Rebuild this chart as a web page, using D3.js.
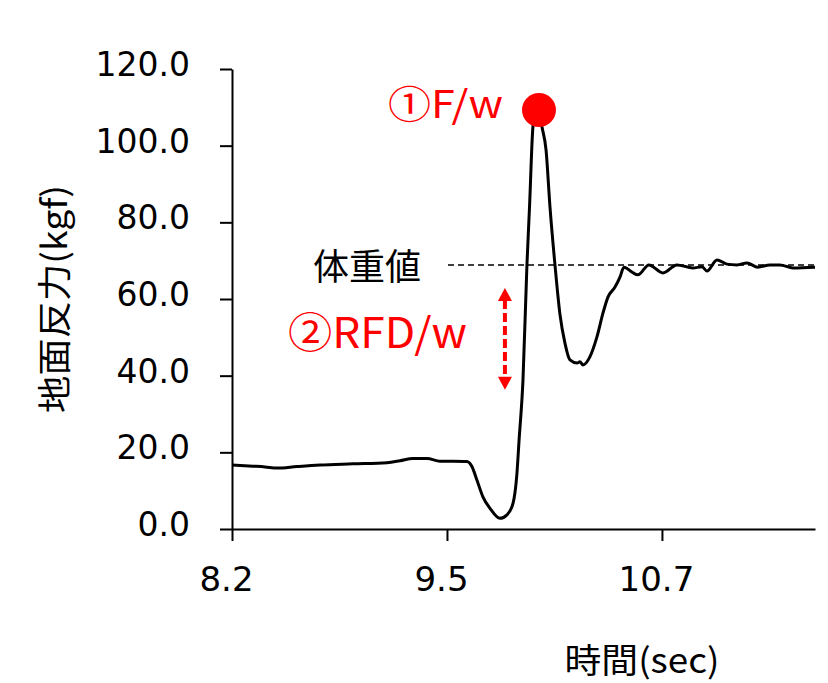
<!DOCTYPE html>
<html><head><meta charset="utf-8">
<script src="https://cdn.jsdelivr.net/npm/d3@7/dist/d3.min.js"></script>
<style>body{margin:0;background:#fff}svg{display:block}</style>
</head><body><svg id="chart" width="828" height="683"></svg>
<script>
// time (sec)
const times = [8.200, 8.322, 8.392, 8.462, 8.578, 8.712, 8.903, 9.101, 9.177, 9.252, 9.334, 9.409, 9.566, 9.595, 9.624, 9.659, 9.700, 9.758, 9.799, 9.834, 9.857, 9.869, 9.892, 9.915, 9.930, 9.950, 9.967, 9.985, 10.002, 10.026, 10.049, 10.078, 10.107, 10.136, 10.165, 10.206, 10.223, 10.241, 10.281, 10.322, 10.357, 10.386, 10.427, 10.456, 10.479, 10.526, 10.560, 10.624, 10.706, 10.787, 10.880, 10.933, 10.962, 11.020, 11.078, 11.136, 11.194, 11.258, 11.328, 11.386, 11.462, 11.590];
// ground reaction force (kgf)
const forces = [16.7, 16.4, 16.2, 15.9, 16.3, 16.7, 17.0, 17.3, 17.8, 18.4, 18.4, 17.7, 17.6, 16.3, 12.8, 8.4, 5.4, 2.8, 3.7, 6.7, 14.6, 23.0, 38.9, 68.9, 84.0, 105.0, 109.0, 109.5, 105.0, 98.9, 84.0, 68.9, 56.0, 48.5, 44.1, 43.3, 43.6, 42.8, 44.9, 50.1, 56.3, 60.5, 63.1, 65.7, 68.3, 67.0, 66.3, 68.9, 66.8, 68.9, 68.1, 68.4, 67.3, 70.2, 69.1, 68.9, 69.4, 68.3, 68.9, 68.9, 68.1, 68.3];
const yTicks = [0, 20, 40, 60, 80, 100, 120];
const xTickValues = [8.2, 9.45, 10.7];
const xTickLabels = ["8.2", "9.5", "10.7"];
const xDomain = [8.2, 11.59];
const yDomain = [0, 120];
const bodyWeight = 68.9;
const bodyWeightStart = 9.456;
const peakPoint = {t: 9.985, f: 109.3};
const rfdArrow = {t: 9.787, from: 36.3, to: 62.9};
const labels = {peak: "①F/w", rfd: "②RFD/w", weight: "体重値", yTitle: "地面反力(kgf)", xTitle: "時間(sec)"};

const svg = d3.select("#chart");
const x = d3.scaleLinear().domain(xDomain).range([232, 815]);
const y = d3.scaleLinear().domain(yDomain).range([529, 69]);

// Y axis
const yAxis = svg.append("g").attr("transform", "translate(232,0)")
  .call(d3.axisLeft(y).tickValues(yTicks).tickSize(12).tickSizeOuter(0).tickFormat(d3.format(".1f")));
yAxis.select(".domain").attr("stroke", "#000").attr("stroke-width", 2);
yAxis.selectAll(".tick line").attr("stroke", "#000").attr("stroke-width", 2);
yAxis.selectAll(".tick text").attr("x", -42).attr("dy", null).attr("y", 6.5)
  .attr("font-family", "'DejaVu Sans', Verdana, sans-serif").attr("font-size", 33).attr("fill", "#000");

// X axis
const xAxis = svg.append("g").attr("transform", "translate(0,529)")
  .call(d3.axisBottom(x).tickValues(xTickValues).tickSize(12).tickSizeOuter(0)
    .tickFormat((d, i) => xTickLabels[i]));
xAxis.select(".domain").attr("stroke", "#000").attr("stroke-width", 2);
xAxis.selectAll(".tick line").attr("stroke", "#000").attr("stroke-width", 2);
xAxis.selectAll(".tick text").attr("x", -6).attr("dy", null).attr("y", 62)
  .attr("font-family", "'DejaVu Sans', Verdana, sans-serif").attr("font-size", 34).attr("fill", "#000");

// body weight dashed line
svg.append("line")
  .attr("x1", x(bodyWeightStart)).attr("x2", x(xDomain[1]))
  .attr("y1", y(bodyWeight)).attr("y2", y(bodyWeight))
  .attr("stroke", "#000").attr("stroke-width", 1.5).attr("stroke-dasharray", "6,4");

// force curve
const data = times.map((t, i) => ({t, f: forces[i]}));
svg.append("path").datum(data)
  .attr("fill", "none").attr("stroke", "#000").attr("stroke-width", 3).attr("stroke-linejoin", "round")
  .attr("d", d3.line().x(d => x(d.t)).y(d => y(d.f)).curve(d3.curveMonotoneX));

// peak marker
svg.append("circle").attr("cx", x(peakPoint.t)).attr("cy", y(peakPoint.f)).attr("r", 17).attr("fill", "#ff0000");

// RFD arrow
const ax = x(rfdArrow.t), ay1 = y(rfdArrow.to), ay2 = y(rfdArrow.from);
svg.append("line").attr("x1", ax).attr("x2", ax).attr("y1", ay1 + 12).attr("y2", ay2 - 12)
  .attr("stroke", "#ff0000").attr("stroke-width", 4).attr("stroke-dasharray", "9,4");
svg.append("path").attr("fill", "#ff0000")
  .attr("d", `M${ax},${ay1} L${ax - 7},${ay1 + 13} L${ax + 7},${ay1 + 13} Z`);
svg.append("path").attr("fill", "#ff0000")
  .attr("d", `M${ax},${ay2} L${ax - 7},${ay2 - 13} L${ax + 7},${ay2 - 13} Z`);

const cjk = "'Noto Sans CJK JP', 'Noto Sans', sans-serif";
svg.append("text").attr("x", 388).attr("y", 118).attr("font-family", cjk).attr("font-size", 38)
  .attr("textLength", 115).attr("lengthAdjust", "spacingAndGlyphs")
  .attr("fill", "#ff0000").text(labels.peak);
svg.append("text").attr("x", 288).attr("y", 348).attr("font-family", cjk).attr("font-size", 42)
  .attr("textLength", 179).attr("lengthAdjust", "spacingAndGlyphs")
  .attr("fill", "#ff0000").text(labels.rfd);
svg.append("text").attr("x", 313).attr("y", 280).attr("font-family", cjk).attr("font-size", 36)
  .attr("fill", "#000").text(labels.weight);

// axis titles
svg.append("text").attr("transform", "translate(52,299) rotate(-90)").attr("text-anchor", "middle")
  .attr("dominant-baseline", "central").attr("font-family", cjk).attr("font-size", 34).attr("fill", "#000")
  .attr("textLength", 228).attr("lengthAdjust", "spacingAndGlyphs")
  .text(labels.yTitle);
svg.append("text").attr("x", 642).attr("y", 673).attr("text-anchor", "middle")
  .attr("font-family", cjk).attr("font-size", 34).attr("fill", "#000")
  .attr("textLength", 155).attr("lengthAdjust", "spacingAndGlyphs")
  .text(labels.xTitle);
</script></body></html>
